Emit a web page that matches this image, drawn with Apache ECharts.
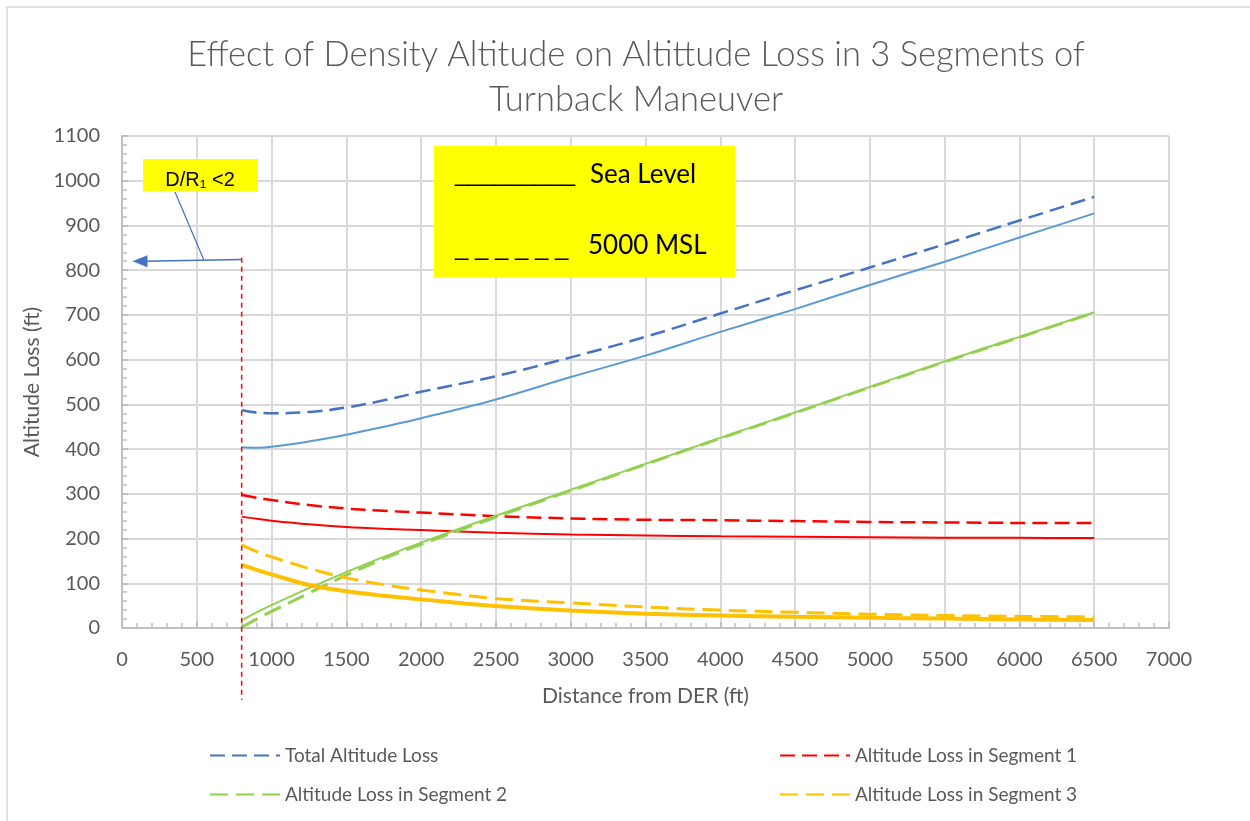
<!DOCTYPE html>
<html>
<head>
<meta charset="utf-8">
<script src="https://cdn.jsdelivr.net/npm/echarts@6/dist/echarts.min.js"></script>
<style>
html,body{margin:0;padding:0;background:#fff;}
#chart{width:1250px;height:821px;}
</style>
</head>
<body>
<div id="chart"></div>
<script>
// ---- data ----
var distances = [800, 900, 1000, 1250, 1500, 1750, 2000, 2500, 3000, 3500, 4000, 4500, 5000, 5500, 6000, 6500];

var totalSeaLevel   = [404, 403, 405, 417, 432, 450, 469, 511, 561, 609, 662, 713, 767, 819, 873, 927];
var total5000       = [487, 482, 480, 483, 493, 509, 528, 563, 605, 651, 703, 755, 806, 858, 911, 964];
var seg1SeaLevel    = [249, 244, 240, 232, 226, 222, 219, 213, 209, 207, 205, 204, 203, 202, 201.5, 201];
var seg15000        = [298, 291, 286, 275, 267, 262, 258, 250, 245, 242, 241, 239, 237, 236, 235, 235];
var seg2SeaLevel    = [17, 35, 51, 89, 125, 159, 191, 251, 309, 367, 425, 482, 539, 596, 651, 706];
var seg25000        = [2, 20, 37, 78, 118, 155, 187, 248, 307, 366, 424, 481, 538, 595, 650, 705];
var seg3SeaLevel    = [141, 130, 120, 96, 82, 72, 64, 49, 39, 32, 28, 25, 23, 21, 19, 18];
var seg35000        = [186, 171, 159, 133, 112, 97, 85, 66, 56, 47, 40, 35, 31, 28, 26, 25];

var xTicks = [0, 500, 1000, 1500, 2000, 2500, 3000, 3500, 4000, 4500, 5000, 5500, 6000, 6500, 7000];
var yTicks = [0, 100, 200, 300, 400, 500, 600, 700, 800, 900, 1000, 1100];

var legendNames = ['Total Altitude Loss', 'Altitude Loss in Segment 1', 'Altitude Loss in Segment 2', 'Altitude Loss in Segment 3'];

// annotation anchor values (data units)
var limitDistance = 800;
var limitTop = 828;
var arrowValue = 822;
var arrowTipDistance = 70;

function pairs(ys) { return distances.map(function (x, i) { return [x, ys[i]]; }); }

var FONT = 'Lato, "Open Sans", sans-serif';
var GREY = '#595959';

var chart = echarts.init(document.getElementById('chart'), null, {renderer: 'canvas'});

function line(name, ys, color, width, dashed, z) {
  return {
    name: name, type: 'line', data: pairs(ys), smooth: 0.35, symbol: 'none',
    lineStyle: {color: color, width: width, type: dashed ? dashed : 'solid'},
    itemStyle: {color: color}, z: z || 2, silent: true
  };
}

function plain(v) { return String(v); }

var legendCommon = {
  orient: 'vertical', itemGap: 20, itemWidth: 70, itemHeight: 14, top: 741,
  itemStyle: {opacity: 0},
  textStyle: {fontFamily: FONT, fontSize: 19, color: GREY}
};

var option = {
  animation: false,
  backgroundColor: '#fff',
  title: {
    text: 'Effect of Density Altitude on Altittude Loss in 3 Segments of\nTurnback Maneuver',
    left: 631, top: 27, textAlign: 'center',
    textStyle: {fontFamily: FONT, fontWeight: 300, fontSize: 34.5, color: GREY, lineHeight: 45, align: 'center'}
  },
  grid: {left: 122, right: 81, top: 136, bottom: 193, containLabel: false},
  legend: [
    Object.assign({left: 204, data: [legendNames[0], legendNames[2]]}, legendCommon),
    Object.assign({left: 774, data: [legendNames[1], legendNames[3]]}, legendCommon)
  ],
  xAxis: {
    type: 'value', min: xTicks[0], max: xTicks[xTicks.length - 1], interval: xTicks[1] - xTicks[0],
    name: 'Distance from DER (ft)', nameLocation: 'middle', nameGap: 58,
    nameTextStyle: {fontFamily: FONT, fontSize: 21, color: GREY},
    axisLine: {show: true, lineStyle: {color: '#bfbfbf', width: 2}},
    axisTick: {show: true, inside: true, length: 6, lineStyle: {color: '#bfbfbf', width: 2}},
    minorTick: {show: true, splitNumber: 5, length: 5, lineStyle: {color: '#bfbfbf', width: 1.5}},
    axisLabel: {fontFamily: FONT, fontSize: 20, color: GREY, margin: 22, formatter: plain},
    splitLine: {show: true, lineStyle: {color: '#d9d9d9', width: 2}}
  },
  yAxis: {
    type: 'value', min: yTicks[0], max: yTicks[yTicks.length - 1], interval: yTicks[1] - yTicks[0],
    name: 'Altitude Loss (ft)', nameLocation: 'middle', nameGap: 79, nameRotate: 90,
    nameTextStyle: {fontFamily: FONT, fontSize: 21, color: GREY},
    axisLine: {show: true, lineStyle: {color: '#bfbfbf', width: 2}},
    axisTick: {show: true, inside: true, length: 6, lineStyle: {color: '#bfbfbf', width: 2}},
    minorTick: {show: true, splitNumber: 5, length: 5, lineStyle: {color: '#bfbfbf', width: 1.5}},
    axisLabel: {fontFamily: FONT, fontSize: 20, color: GREY, margin: 22, formatter: plain},
    splitLine: {show: true, lineStyle: {color: '#d9d9d9', width: 2}}
  },
  series: [
    line('Total Altitude Loss (Sea Level)', totalSeaLevel, '#5B9BD5', 2),
    line(legendNames[0], total5000, '#4472C4', 2.5, [15, 7]),
    line('Altitude Loss in Segment 1 (Sea Level)', seg1SeaLevel, '#FF0000', 2),
    line(legendNames[1], seg15000, '#FF0000', 2.5, [15, 7]),
    line('Altitude Loss in Segment 2 (Sea Level)', seg2SeaLevel, '#92D050', 2),
    line(legendNames[2], seg25000, '#92D050', 3, [18, 8]),
    line('Altitude Loss in Segment 3 (Sea Level)', seg3SeaLevel, '#FFC000', 4),
    line(legendNames[3], seg35000, '#FFC000', 3, [18, 8])
  ]
};
chart.setOption(option);

// annotations positioned through the chart's own scales
var pTop = chart.convertToPixel({gridIndex: 0}, [limitDistance, limitTop]);
var pZero = chart.convertToPixel({gridIndex: 0}, [limitDistance, 0]);
var pArrowR = chart.convertToPixel({gridIndex: 0}, [limitDistance, arrowValue + 2]);
var pArrowL = chart.convertToPixel({gridIndex: 0}, [arrowTipDistance, arrowValue - 2]);

var KEYFONT = '26px Lato, sans-serif';
var RULEFONT = '24px "Liberation Sans", Arial, sans-serif';

chart.setOption({
  graphic: [
    // outer frame
    {type: 'rect', shape: {x: 7, y: 7, width: 1400, height: 1000}, style: {fill: null, stroke: '#d9d9d9', lineWidth: 1.5}, silent: true, z: 0},
    // red dashed limit line
    {type: 'line', shape: {x1: pTop[0], y1: pTop[1], x2: pZero[0], y2: pZero[1] + 72},
     style: {stroke: '#FF0000', lineWidth: 1.5, lineDash: [5, 4]}, z: 10, silent: true},
    // arrow
    {type: 'line', shape: {x1: pArrowR[0], y1: pArrowR[1], x2: pArrowL[0] + 12, y2: pArrowL[1]},
     style: {stroke: '#4472C4', lineWidth: 1.5}, z: 10, silent: true},
    {type: 'polygon', shape: {points: [[pArrowL[0], pArrowL[1]], [pArrowL[0] + 15, pArrowL[1] - 6], [pArrowL[0] + 15, pArrowL[1] + 6]]},
     style: {fill: '#4472C4'}, z: 10, silent: true},
    // callout leader
    {type: 'line', shape: {x1: 175, y1: 192, x2: pArrowR[0] - 38, y2: pArrowR[1]},
     style: {stroke: '#4472C4', lineWidth: 1.2}, z: 10, silent: true},
    // D/R1 box
    {type: 'rect', shape: {x: 143, y: 159, width: 115, height: 32}, style: {fill: '#FFFF00'}, z: 11, silent: true},
    {type: 'text', x: 200, y: 180, z: 12, silent: true,
     style: {text: 'D/R₁ <2', fill: '#000', font: '20px "Liberation Sans", Arial, sans-serif', textAlign: 'center', textVerticalAlign: 'middle'}},
    // Sea Level / 5000 MSL key box
    {type: 'rect', shape: {x: 434, y: 146, width: 301, height: 131}, style: {fill: '#FFFF00'}, z: 11, silent: true},
    {type: 'text', x: 455, y: 174, z: 12, silent: true,
     style: {text: '_________', fill: '#000', font: RULEFONT, textVerticalAlign: 'middle'}},
    {type: 'text', x: 590, y: 175, z: 12, silent: true,
     style: {text: 'Sea Level', fill: '#000', font: KEYFONT, textVerticalAlign: 'middle'}},
    {type: 'text', x: 455, y: 248, z: 12, silent: true,
     style: {text: '_ _ _ _ _ _', fill: '#000', font: RULEFONT, textVerticalAlign: 'middle'}},
    {type: 'text', x: 588, y: 246, z: 12, silent: true,
     style: {text: '5000 MSL', fill: '#000', font: KEYFONT, textVerticalAlign: 'middle'}}
  ]
});
</script>
</body>
</html>
